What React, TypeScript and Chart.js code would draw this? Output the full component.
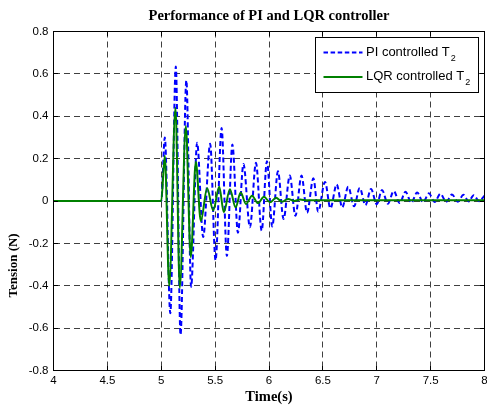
import React, { useEffect, useRef } from 'react';
import { Chart, registerables } from 'chart.js';

Chart.register(...registerables);

// ---- Data (time in s, tension in N) ----
const PI_T = [4, 5.0, 5.033, 5.084, 5.135, 5.179, 5.233, 5.277, 5.333, 5.389, 5.454, 5.504, 5.56, 5.609, 5.66, 5.712, 5.763, 5.823, 5.879, 5.932, 5.981, 6.03, 6.083, 6.135, 6.193, 6.245, 6.302, 6.353, 6.412, 6.456, 6.52, 6.57, 6.628, 6.68, 6.735, 6.79, 6.842, 6.895, 6.947, 7.0, 7.049, 7.103, 7.158, 7.213, 7.267, 7.32, 7.375, 7.43, 7.484, 7.537, 7.591, 7.645, 7.698, 7.752, 7.805, 7.853, 7.9, 7.95, 8.0];
const PI_V = [0, 0, 0.30, -0.53, 0.635, -0.632, 0.57, -0.405, 0.275, -0.17, 0.27, -0.28, 0.345, -0.26, 0.267, -0.15, 0.175, -0.124, 0.18, -0.14, 0.188, -0.12, 0.14, -0.085, 0.12, -0.07, 0.12, -0.055, 0.107, -0.05, 0.09, -0.035, 0.078, -0.03, 0.067, -0.025, 0.062, -0.02, 0.057, -0.016, 0.052, -0.013, 0.047, -0.01, 0.044, -0.008, 0.04, -0.006, 0.036, -0.005, 0.034, -0.004, 0.031, -0.003, 0.029, -0.002, 0.027, -0.001, 0.025];

const LQR_T = [4, 5.0, 5.033, 5.074, 5.132, 5.172, 5.228, 5.274, 5.321, 5.367, 5.426, 5.482, 5.538, 5.581, 5.637, 5.69, 5.737, 5.786, 5.842, 5.898, 5.953, 6.009, 6.065, 6.121, 6.177, 6.233, 6.288, 6.35, 8.0];
const LQR_V = [0, 0, 0.213, -0.40, 0.44, -0.41, 0.354, -0.265, 0.185, -0.094, 0.06, -0.045, 0.067, -0.053, 0.056, -0.03, 0.04, -0.014, 0.025, -0.01, 0.02, -0.006, 0.015, -0.003, 0.01, 0, 0.007, 0.003, 0.003];

const X_MIN = 4;
const X_MAX = 8;
const X_STEP = 0.5;
const Y_MIN = -0.8;
const Y_MAX = 0.8;
const Y_STEP = 0.2;

const TITLE = 'Performance of PI and LQR controller';
const X_TITLE = 'Time(s)';
const Y_TITLE = 'Tension (N)';
const SERIES_LABELS = ['PI controlled T\u2082', 'LQR controlled T\u2082'];
const LEGEND_MAIN = ['PI controlled T', 'LQR controlled T'];
const LEGEND_SUB = ['2', '2'];

const BLUE = '#0000ff';
const GREEN = '#008000';
const SANS = '"Liberation Sans", Arial, Helvetica, sans-serif';
const SERIF = '"Liberation Serif", "Times New Roman", Times, serif';

const W = 487;
const H = 406;

const fmtTick = (v: any) => {
  const n = Math.round(Number(v) * 1000) / 1000;
  return String(n === 0 ? 0 : n);
};

const framePlugin = {
  id: 'matlabFrame',
  afterDraw(chart: any) {
    const { ctx, chartArea: ca, scales } = chart;
    const xs = scales.x;
    const ys = scales.y;
    const TICK = 4.5;
    ctx.save();
    ctx.setLineDash([]);
    ctx.strokeStyle = '#000';
    ctx.lineWidth = 1;
    ctx.strokeRect(ca.left, ca.top, ca.right - ca.left, ca.bottom - ca.top);
    ctx.beginPath();
    xs.ticks.forEach((t: any) => {
      const px = Math.round(xs.getPixelForValue(t.value) - 0.5) + 0.5;
      ctx.moveTo(px, ca.bottom);
      ctx.lineTo(px, ca.bottom - TICK);
      ctx.moveTo(px, ca.top);
      ctx.lineTo(px, ca.top + TICK);
    });
    ys.ticks.forEach((t: any) => {
      const py = Math.round(ys.getPixelForValue(t.value) - 0.5) + 0.5;
      ctx.moveTo(ca.left, py);
      ctx.lineTo(ca.left + TICK, py);
      ctx.moveTo(ca.right, py);
      ctx.lineTo(ca.right - TICK, py);
    });
    ctx.stroke();

    // Y axis title (placed as in the reference, below centre)
    ctx.save();
    ctx.translate(14, ca.top + (ca.bottom - ca.top) * 0.69);
    ctx.rotate(-Math.PI / 2);
    ctx.font = `bold 13px ${SERIF}`;
    ctx.fillStyle = '#000';
    ctx.textAlign = 'center';
    ctx.textBaseline = 'middle';
    ctx.fillText(Y_TITLE, 0, 0);
    ctx.restore();

    // Legend box (inside the plot, top right)
    const mainFont = `13px ${SANS}`;
    const subFont = `9px ${SANS}`;
    const widths = LEGEND_MAIN.map((s, i) => {
      ctx.font = mainFont;
      const w1 = ctx.measureText(s).width;
      ctx.font = subFont;
      const w2 = ctx.measureText(LEGEND_SUB[i]).width;
      return w1 + 1 + w2;
    });
    const sampleLen = 39;
    const boxW = 8 + sampleLen + 3.5 + Math.max(...widths) + 9;
    const boxH = 55;
    const boxR = Math.round(ca.right - 7) + 0.5;
    const boxL = Math.round(boxR - boxW) + 0.5;
    const boxT = Math.round(ca.top + 5) + 0.5;
    ctx.fillStyle = '#fff';
    ctx.fillRect(boxL, boxT, boxR - boxL, boxH);
    ctx.strokeStyle = '#000';
    ctx.lineWidth = 1;
    ctx.strokeRect(boxL, boxT, boxR - boxL, boxH);

    const rows = [boxT + 15, boxT + 39.5];
    const colors = [BLUE, GREEN];
    const dashes = [[4.5, 2.6], []];
    rows.forEach((ry, i) => {
      ctx.save();
      ctx.strokeStyle = colors[i];
      ctx.lineWidth = 2;
      ctx.setLineDash(dashes[i]);
      ctx.beginPath();
      ctx.moveTo(boxL + 8, ry);
      ctx.lineTo(boxL + 8 + sampleLen, ry);
      ctx.stroke();
      ctx.restore();
      const tx = boxL + 8 + sampleLen + 3.5;
      ctx.fillStyle = '#000';
      ctx.textAlign = 'left';
      ctx.textBaseline = 'alphabetic';
      ctx.font = mainFont;
      ctx.fillText(LEGEND_MAIN[i], tx, ry + 3);
      const w1 = ctx.measureText(LEGEND_MAIN[i]).width;
      ctx.font = subFont;
      ctx.fillText(LEGEND_SUB[i], tx + w1 + 1, ry + 8);
    });
    ctx.restore();
  },
};

export default function App() {
  const canvasRef = useRef<HTMLCanvasElement | null>(null);

  useEffect(() => {
    const canvas = canvasRef.current;
    if (!canvas) return;
    const piData = PI_T.map((t, i) => ({ x: t, y: PI_V[i] }));
    const lqrData = LQR_T.map((t, i) => ({ x: t, y: LQR_V[i] }));

    const chart = new Chart(canvas, {
      type: 'line',
      data: {
        datasets: [
          {
            label: SERIES_LABELS[0],
            data: piData,
            borderColor: BLUE,
            backgroundColor: BLUE,
            borderWidth: 2,
            borderDash: [5, 3],
            pointRadius: 0,
            fill: false,
            cubicInterpolationMode: 'monotone',
            order: 2,
          },
          {
            label: SERIES_LABELS[1],
            data: lqrData,
            borderColor: GREEN,
            backgroundColor: GREEN,
            borderWidth: 2,
            pointRadius: 0,
            fill: false,
            cubicInterpolationMode: 'monotone',
            order: 1,
          },
        ],
      },
      options: {
        responsive: false,
        maintainAspectRatio: false,
        devicePixelRatio: 1,
        animation: false,
        events: [],
        layout: { padding: { left: 0, top: 0, right: 2.5, bottom: 0 } },
        plugins: {
          legend: { display: false },
          tooltip: { enabled: false },
          title: {
            display: true,
            text: TITLE,
            fullSize: false,
            color: '#000',
            font: { family: SERIF, size: 14.5, weight: 'bold' },
            padding: { top: 7.8, bottom: 6.3 },
          },
        },
        scales: {
          x: {
            type: 'linear',
            min: X_MIN,
            max: X_MAX,
            ticks: {
              stepSize: X_STEP,
              color: '#000',
              font: { family: SANS, size: 11.5 },
              padding: 3,
              maxRotation: 0,
              autoSkip: false,
              callback: (v: any) => fmtTick(v),
            },
            grid: { color: 'rgba(0,0,0,0.75)', lineWidth: 1, drawTicks: false },
            border: { display: false, dash: [6, 4] },
            title: {
              display: true,
              text: X_TITLE,
              color: '#000',
              font: { family: SERIF, size: 14.5, weight: 'bold' },
              padding: { top: 0, bottom: 0 },
            },
            afterFit: (scale: any) => {
              scale.height = 35.5;
              scale.paddingLeft = 0;
              scale.paddingRight = 0;
            },
          },
          y: {
            type: 'linear',
            min: Y_MIN,
            max: Y_MAX,
            ticks: {
              stepSize: Y_STEP,
              color: '#000',
              font: { family: SANS, size: 11.5 },
              padding: 5,
              autoSkip: false,
              callback: (v: any) => fmtTick(v),
            },
            grid: { color: 'rgba(0,0,0,0.75)', lineWidth: 1, drawTicks: false },
            border: { display: false, dash: [6, 4] },
            afterFit: (scale: any) => {
              scale.width = 53.5;
              scale.paddingTop = 0;
              scale.paddingBottom = 0;
            },
          },
        },
      },
      plugins: [framePlugin],
    } as any);

    return () => {
      chart.destroy();
    };
  }, []);

  return (
    <div style={{ position: 'fixed', left: 0, top: 0, width: W, height: H, background: '#fff' }}>
      <canvas ref={canvasRef} width={W} height={H} style={{ display: 'block', width: W, height: H }} />
    </div>
  );
}
